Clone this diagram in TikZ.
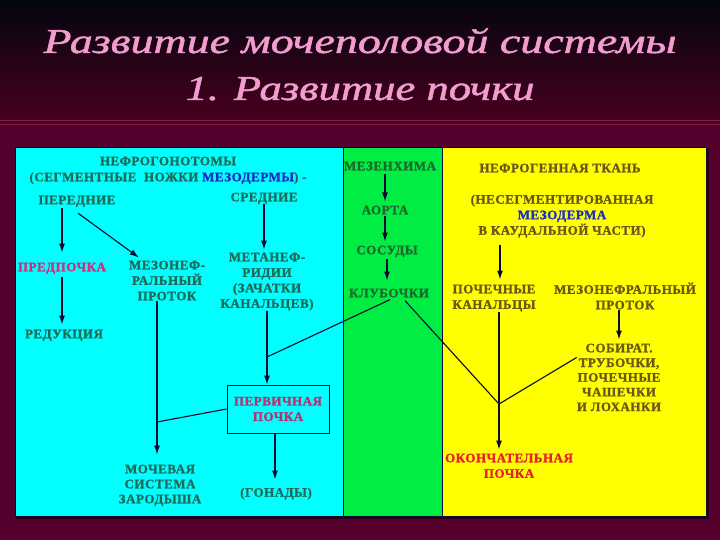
\documentclass[tikz,border=0pt]{standalone}
\usepackage{fontspec}
\usepackage{graphicx}
\setmainfont{Liberation Serif}
\newfontfamily\bodyfont[LetterSpace=4, FakeBold=1.3]{Liberation Serif Bold}
\newfontfamily\titlefont[FakeBold=1.2]{Liberation Serif Italic}
\usetikzlibrary{arrows.meta,calc}
\definecolor{bgtop}{HTML}{03060F}
\definecolor{bgmid}{HTML}{48001F}
\definecolor{bgbot}{HTML}{56002E}
\definecolor{bgline}{HTML}{7A2545}
\definecolor{titlec}{HTML}{F29CD0}
\definecolor{cyanp}{HTML}{00FFFF}
\definecolor{greenp}{HTML}{00EE44}
\definecolor{yellowp}{HTML}{FFFF00}
\definecolor{cyt}{HTML}{1E6B5A}
\definecolor{grt}{HTML}{1C6A2C}
\definecolor{yet}{HTML}{6B5814}
\definecolor{magt}{HTML}{D42A7C}
\definecolor{boxt}{HTML}{B8306E}
\definecolor{bluet}{HTML}{1A2EC8}
\definecolor{redt}{HTML}{E8202A}
\definecolor{lc}{HTML}{0A0A30}
\definecolor{shadowc}{HTML}{2A0018}
\begin{document}
\begin{tikzpicture}[x=1pt,y=-1pt,
  txt/.style={font=\bodyfont\fontsize{13}{15.5}\selectfont, align=center, inner sep=0pt, anchor=north},
  ctext/.style={txt, text=cyt},
  gtext/.style={txt, text=grt},
  ytext/.style={txt, text=yet},
  titlestyle/.style={font=\titlefont\fontsize{35}{40}\selectfont, text=titlec, anchor=base, inner sep=0pt},
  arr/.style={draw=lc, line width=1.1pt, -{Latex[length=9pt,width=6pt]}},
  ln/.style={draw=lc, line width=1.1pt},
  boxnode/.style={draw=lc, line width=1pt, font=\bodyfont\fontsize{13}{15.5}\selectfont, align=center, text=boxt, minimum width=102pt, minimum height=48pt, inner sep=0pt}
]
\useasboundingbox (0,0) rectangle (720,540);
% background
\shade[top color=bgtop, bottom color=bgmid] (0,0) rectangle (720,122);
\fill[bgbot] (0,122) rectangle (720,540);
\draw[bgline, line width=0.6pt] (0,120.5) -- (720,120.5);
\draw[bgline, line width=0.6pt] (0,124.5) -- (720,124.5);
% title
\node[titlestyle] (t1) at (360,53) {\resizebox{633pt}{\height}{Развитие мочеполовой системы}};
\node[titlestyle] (t2) at (360,100) {\resizebox{349pt}{\height}{1. Развитие почки}};
% panels
\fill[cyanp] (15,147) rectangle (343,516);
\fill[greenp] (343,147) rectangle (442,516);
\fill[yellowp] (442,147) rectangle (706,516);
\draw[shadowc, line width=2pt] (16,517.5) -- (707.5,517.5) -- (707.5,148);
\draw[lc, line width=0.8pt] (15,147) rectangle (706,516);
\draw[lc, line width=0.8pt] (343,147) -- (343,516);
\draw[lc, line width=0.8pt] (442,147) -- (442,516);
% cyan panel
\node[ctext] (nefr) at (168,156.5) {НЕФРОГОНОТОМЫ\\[0.5pt](СЕГМЕНТНЫЕ\ \ НОЖКИ \textcolor{bluet}{МЕЗОДЕРМЫ}) -};
\node[ctext] (peredn) at (77,195.5) {ПЕРЕДНИЕ};
\node[ctext] (sredn) at (264,192.5) {СРЕДНИЕ};
\node[txt, text=magt] (predp) at (62,262.5) {ПРЕДПОЧКА};
\node[ctext] (mezon) at (167,260.5) {МЕЗОНЕФ-\\РАЛЬНЫЙ\\ПРОТОК};
\node[ctext] (metan) at (267,252.5) {МЕТАНЕФ-\\РИДИИ\\(ЗАЧАТКИ\\КАНАЛЬЦЕВ)};
\node[ctext] (reduk) at (64,329.5) {РЕДУКЦИЯ};
\node[boxnode] (perv) at (278,409) {ПЕРВИЧНАЯ\\ПОЧКА};
\node[ctext, font=\bodyfont\fontsize{13}{15}\selectfont] (mochev) at (160,464.5) {МОЧЕВАЯ\\СИСТЕМА\\ЗАРОДЫША};
\node[ctext] (gonad) at (276,487.5) {(ГОНАДЫ)};
% green panel
\node[gtext] (mezen) at (390,161.5) {МЕЗЕНХИМА};
\node[gtext] (aorta) at (385,205.5) {АОРТА};
\node[gtext] (sosud) at (387,245.5) {СОСУДЫ};
\node[gtext] (klub) at (389,288.5) {КЛУБОЧКИ};
% yellow panel
\node[ytext] (nefg) at (560,163.5) {НЕФРОГЕННАЯ ТКАНЬ};
\node[ytext] (nes) at (562,194.5) {(НЕСЕГМЕНТИРОВАННАЯ\\\textcolor{bluet}{МЕЗОДЕРМА}\\В КАУДАЛЬНОЙ ЧАСТИ)};
\node[ytext] (pochk) at (494,284.5) {ПОЧЕЧНЫЕ\\КАНАЛЬЦЫ};
\node[ytext] (mezpr) at (625,282.5) {МЕЗОНЕФРАЛЬНЫЙ\\ПРОТОК};
\node[ytext, font=\bodyfont\fontsize{13}{14.7}\selectfont] (sobir) at (619,343.5) {СОБИРАТ.\\ТРУБОЧКИ,\\ПОЧЕЧНЫЕ\\ЧАШЕЧКИ\\И ЛОХАНКИ};
\node[txt, text=redt] (okon) at (509,453.5) {ОКОНЧАТЕЛЬНАЯ\\ПОЧКА};
% junctions
\coordinate (j1) at ([xshift=-10pt]mezon.south |- 0,422);
\coordinate (j2) at (metan.south |- 0,357);
\coordinate (j3) at ([xshift=5pt]pochk.south |- 0,404);
% cyan connectors
\draw[arr, shorten <=1pt, shorten >=10pt] (peredn.south -| predp.north) -- (predp.north);
\draw[arr] ([xshift=1pt,yshift=-6pt]peredn.south) -- ([xshift=10pt,yshift=3pt]mezon.north west);
\draw[arr, shorten >=3pt] (sredn.south) -- (sredn.south |- metan.north);
\draw[arr, shorten <=3pt, shorten >=5pt] (predp.south) -- (predp.south |- reduk.north);
\draw[arr, shorten >=10pt] ([xshift=-10pt]mezon.south) -- ([xshift=-10pt]mezon.south |- mochev.north);
\draw[ln] (perv.west) -- (j1);
\draw[arr] (metan.south) -- (metan.south |- perv.north);
\draw[arr, shorten >=8pt] ([xshift=-3pt]perv.south) -- ([xshift=-3pt]perv.south |- gonad.north);
\draw[ln] ([xshift=1pt,yshift=-2pt]klub.south) -- (j2);
% green connectors
\draw[arr, shorten <=3pt, shorten >=4pt] (mezen.south -| aorta.north) -- (aorta.north);
\draw[arr, shorten <=1pt, shorten >=4pt] (aorta.south) -- (aorta.south |- sosud.north);
\draw[arr, shorten <=2pt, shorten >=8pt] (sosud.south) -- (sosud.south |- klub.north);
% yellow connectors
\draw[arr, shorten <=7pt, shorten >=5pt] ([xshift=6pt]pochk.north |- nes.south) -- ([xshift=6pt]pochk.north);
\draw[ln] ([xshift=5pt]pochk.south) -- (j3);
\draw[arr, shorten >=4pt] (j3) -- (j3 |- okon.north);
\draw[ln] ([xshift=16pt,yshift=-3pt]klub.south) -- (j3);
\draw[ln] ([yshift=20pt]sobir.west) -- (j3);
\draw[arr, shorten >=4pt] (mezpr.south -| sobir.north) -- (sobir.north);
\end{tikzpicture}
\end{document}
